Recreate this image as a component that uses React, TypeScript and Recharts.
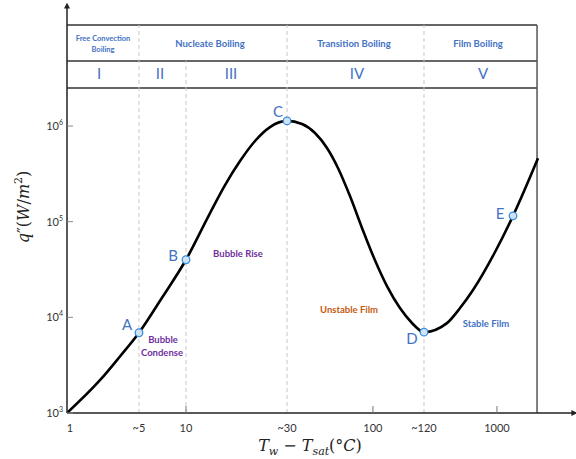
import {
  ComposedChart,
  Customized,
  Line,
  ReferenceLine,
  Scatter,
  XAxis,
  YAxis,
} from "recharts";

// x is a schematic position (the source axis is not to scale): 1 -> 0, 10 -> 1
const tickPos = [0, 0.605, 1, 1.849, 2.571, 3.0, 3.613];
const tickLabels = ["1", "~5", "10", "~30", "100", "~120", "1000"];
const yTicks = [1e3, 1e4, 1e5, 1e6];

// boiling curve, q'' in W/m2
const curveX = [
  0, 0.277, 0.445, 0.605, 0.798, 1.0, 1.202, 1.328, 1.454, 1.58, 1.706, 1.849,
  1.975, 2.084, 2.185, 2.277, 2.378, 2.479, 2.58, 2.689, 2.798, 2.899, 3.0,
  3.193, 3.303, 3.412, 3.597, 3.748, 3.958,
];
const curveQ = [
  1000, 2200, 3900, 6900, 16000, 40000, 123000, 241000, 430000, 697000, 975000,
  1130000, 1050000, 845000, 589000, 364000, 185000, 86000, 41700, 21200, 12500,
  8730, 7000, 8700, 12500, 19300, 48200, 115000, 460000,
];

const pointNames = ["A", "B", "C", "D", "E"];
const pointX = [0.605, 1.0, 1.849, 3.0, 3.748];
const pointQ = [6900, 40000, 1130000, 7000, 115000];

const regionEdges = [0.605, 1.0, 1.849, 3.0];
const frameRight = 3.95;

const curve = curveX.map((u, i) => ({ u, q: curveQ[i] }));
const points = pointX.map((u, i) => ({ u, q: pointQ[i], name: pointNames[i] }));

const BLUE = "#4472c4";
const FONT = "Lato, 'Open Sans', sans-serif";
const SERIF = "'DejaVu Serif', 'Liberation Serif', serif";
const TABLE_TOP = 1.14e7;
const ROW_SPLIT = 4.8e6;

const labelShift: Record<string, [number, number]> = {
  A: [-12, -8],
  B: [-13, -4],
  C: [-9, -9],
  D: [-12, 7],
  E: [-13, -2],
};

function XTick({ x, y, payload }: any) {
  const label = tickLabels[tickPos.indexOf(payload.value)] ?? "";
  const mark = !label.startsWith("~") && label !== "1";
  return (
    <g>
      {mark && <line x1={x} y1={y} x2={x} y2={y - 7} stroke="#777" />}
      <text x={x + (label === "1" ? 3 : 0)} y={y + 19} textAnchor="middle" fontSize={11} fill="#333" fontFamily={FONT}>
        {label}
      </text>
    </g>
  );
}

function YTick({ x, y, payload }: any) {
  const exp = Math.round(Math.log10(payload.value));
  return (
    <g>
      <line x1={x} y1={y} x2={x + 6} y2={y} stroke="#888" />
      <text x={x - 4} y={y + 4} textAnchor="end" fontSize={11} fill="#333" fontFamily={FONT}>
        10
        <tspan dy={-5} fontSize={7}>
          {exp}
        </tspan>
      </text>
    </g>
  );
}

function PointShape(props: any) {
  const { cx, cy, payload } = props;
  const [dx, dy] = labelShift[payload.name] ?? [-12, 0];
  return (
    <g>
      <circle cx={cx} cy={cy} r={3.8} fill="#cfe3f6" stroke="#3d8fd9" strokeWidth={1.3} />
      <text x={cx + dx} y={cy + dy + 5} textAnchor="middle" fontSize={15} fill={BLUE} fontFamily={FONT}>
        {payload.name}
      </text>
    </g>
  );
}

function Overlay() {
  const head = { fill: BLUE, fontFamily: FONT, fontWeight: 700, textAnchor: "middle" as const };
  const note = { fontFamily: FONT, fontWeight: 700, fontSize: 9.5, textAnchor: "middle" as const };
  return (
    <g>
      {/* region table */}
      <line x1={67} y1={25} x2={537} y2={25} stroke="#333" strokeWidth={1.5} />
      <line x1={67} y1={61} x2={537} y2={61} stroke="#333" strokeWidth={1.5} />
      <line x1={67} y1={88} x2={537} y2={88} stroke="#333" strokeWidth={1.5} />
      <text {...head} x={103} y={41} fontSize={7.5}>Free Convection</text>
      <text {...head} x={103} y={52} fontSize={7.5}>Boiling</text>
      <text {...head} x={210} y={47} fontSize={9.5}>Nucleate Boiling</text>
      <text {...head} x={354} y={47} fontSize={9.5}>Transition Boiling</text>
      <text {...head} x={478} y={47} fontSize={9.5}>Film Boiling</text>
      {[["I", 99], ["II", 160], ["III", 231], ["IV", 357], ["V", 483]].map(([t, x]) => (
        <text key={t} x={x as number} y={79} textAnchor="middle" fontSize={15} fill={BLUE} fontFamily={FONT}>
          {t}
        </text>
      ))}

      {/* notes */}
      <text {...note} x={163} y={343} fill="#7030a0">Bubble</text>
      <text {...note} x={162} y={356} fill="#7030a0">Condense</text>
      <text {...note} x={238} y={257} fill="#7030a0">Bubble Rise</text>
      <text {...note} x={349} y={313} fill="#c55a11">Unstable Film</text>
      <text {...note} x={486} y={327} fill={BLUE}>Stable Film</text>

      {/* axis titles */}
      <text transform="translate(29,207) rotate(-90)" textAnchor="middle" fontSize={16} fontFamily={SERIF} fill="#222">
        <tspan fontStyle="italic">q</tspan>″(<tspan fontStyle="italic">W</tspan>/<tspan fontStyle="italic">m</tspan>
        <tspan dy={-7} fontSize={11}>2</tspan>
        <tspan dy={7}>)</tspan>
      </text>
      <text x={310} y={451} textAnchor="middle" fontSize={16} fontFamily={SERIF} fill="#222">
        <tspan fontStyle="italic">T</tspan>
        <tspan dy={4} fontSize={11} fontStyle="italic">w</tspan>
        <tspan dy={-4}> − </tspan>
        <tspan fontStyle="italic">T</tspan>
        <tspan dy={4} fontSize={11} fontStyle="italic">sat</tspan>
        <tspan dy={-4}>(°</tspan>
        <tspan fontStyle="italic">C</tspan>)
      </text>
    </g>
  );
}

export default function App() {
  return (
    <div style={{ position: "absolute", left: 0, top: 0, width: 576, height: 459, background: "#fff" }}>
      <svg width={0} height={0} style={{ position: "absolute" }}>
        <defs>
          <marker id="arr" viewBox="0 0 10 10" refX="6" refY="5" markerWidth="4" markerHeight="4" orient="auto-start-reverse">
            <path d="M0,0 L10,5 L0,10 z" fill="#222" />
          </marker>
        </defs>
      </svg>
      <ComposedChart width={576} height={459} margin={{ top: 5, right: 1, bottom: 0, left: 0 }}>
        <XAxis
          dataKey="u"
          type="number"
          domain={[0, 4.269]}
          ticks={tickPos}
          interval={0}
          tickSize={0}
          tickMargin={0}
          tickLine={false}
          tick={<XTick />}
          height={46}
          axisLine={{ stroke: "#222", strokeWidth: 1.5, markerEnd: "url(#arr)" }}
          allowDataOverflow
        />
        <YAxis
          type="number"
          scale="log"
          domain={[1000, 18400000]}
          ticks={yTicks}
          interval={0}
          tickSize={0}
          tickMargin={0}
          tickLine={false}
          tick={<YTick />}
          width={67}
          axisLine={{ stroke: "#222", strokeWidth: 1.5, markerStart: "url(#arr)" }}
          allowDataOverflow
        />
        {regionEdges.map((u) => (
          <ReferenceLine
            key={u}
            segment={[
              { x: u, y: 1000 },
              { x: u, y: u === 1.0 ? ROW_SPLIT : TABLE_TOP },
            ]}
            stroke="#c8c8c8"
            strokeDasharray="4 3"
          />
        ))}
        <ReferenceLine
          segment={[
            { x: frameRight, y: 1000 },
            { x: frameRight, y: TABLE_TOP },
          ]}
          stroke="#555"
          strokeWidth={1.5}
        />
        <Line
          data={curve}
          dataKey="q"
          type="monotone"
          stroke="#000"
          strokeWidth={2.6}
          dot={false}
          isAnimationActive={false}
        />
        <Scatter data={points} dataKey="q" shape={<PointShape />} isAnimationActive={false} />
        <Customized component={<Overlay />} />
      </ComposedChart>
    </div>
  );
}
